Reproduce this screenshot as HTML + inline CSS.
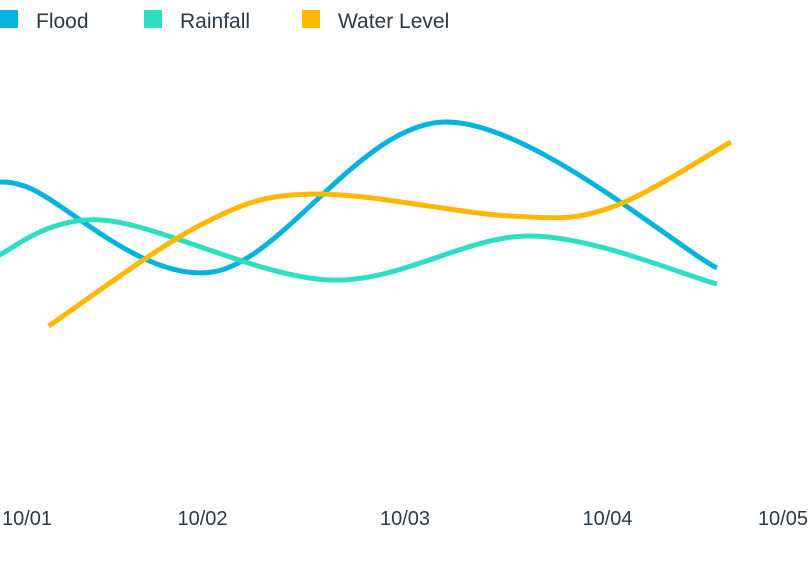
<!DOCTYPE html>
<html><head><meta charset="utf-8"><style>
body{margin:0;background:#fff;width:810px;height:576px;overflow:hidden;font-family:"Liberation Sans",sans-serif}
</style></head><body>
<svg width="810" height="576">
<g id="legend"></g>
<g id="lines"></g>
<g id="xaxis"></g>
</svg>
<script>
const categories=["10/01","10/02","10/03","10/04","10/05"];
const seriesNames=["Flood","Rainfall","Water Level"];
const floodT=[-0.1,0.12,1.05,2.2,3.54];
const floodV=[71,73.5,52,89.5,53];
const rainT=[-0.05,0.5,1.63,2.62,3.54];
const rainV=[55,65,50,61,49];
const waterT=[0.24,1.0,1.55,2.52,3.01,3.61];
const waterV=[38.5,64,71.5,66,68,84.5];
const colors=["#04b4de","#2ddfc0","#ffb700"];
const NS="http://www.w3.org/2000/svg";
const x=t=>t*202.5;
const y=v=>480-v*4;
function path(T,V){
 const p=T.map((t,i)=>[x(t),y(V[i])]);
 let d="M"+p[0][0]+","+p[0][1];
 for(let i=0;i<p.length-1;i++){
  const p0=p[i-1]||p[i],p1=p[i],p2=p[i+1],p3=p[i+2]||p2;
  const c1=[p1[0]+(p2[0]-p0[0])/6,p1[1]+(p2[1]-p0[1])/6];
  const c2=[p2[0]-(p3[0]-p1[0])/6,p2[1]-(p3[1]-p1[1])/6];
  d+=`C${c1[0]},${c1[1]} ${c2[0]},${c2[1]} ${p2[0]},${p2[1]}`;
 }
 return d;
}
const lines=document.getElementById("lines");
[[floodT,floodV],[rainT,rainV],[waterT,waterV]].forEach((s,i)=>{
 const el=document.createElementNS(NS,"path");
 el.setAttribute("d",path(s[0],s[1]));
 el.setAttribute("fill","none");el.setAttribute("stroke",colors[i]);el.setAttribute("stroke-width","5");
 
 
 lines.appendChild(el);
});
const lx=[0,144,302];
const lg=document.getElementById("legend");
seriesNames.forEach((n,i)=>{
 const g=document.createElementNS(NS,"g");
 
 
 g.innerHTML=`<rect x="${lx[i]}" y="10" width="18" height="18" fill="${colors[i]}"/><text x="${lx[i]+36}" y="28" font-size="21" fill="#2c3a45">${n}</text>`;
 lg.appendChild(g);
});
const xa=document.getElementById("xaxis");
categories.forEach((c,i)=>{
 const t=document.createElementNS(NS,"text");
 let px=x(i),anchor="middle";
 if(i===0){px=2;anchor="start";}
 if(i===categories.length-1){px=808;anchor="end";}
 t.setAttribute("x",px);t.setAttribute("y",525);t.setAttribute("text-anchor",anchor);
 t.setAttribute("font-size","20");t.setAttribute("fill","#2c3a45");
 t.textContent=c;
 
 
 xa.appendChild(t);
});
</script>
</body></html>
